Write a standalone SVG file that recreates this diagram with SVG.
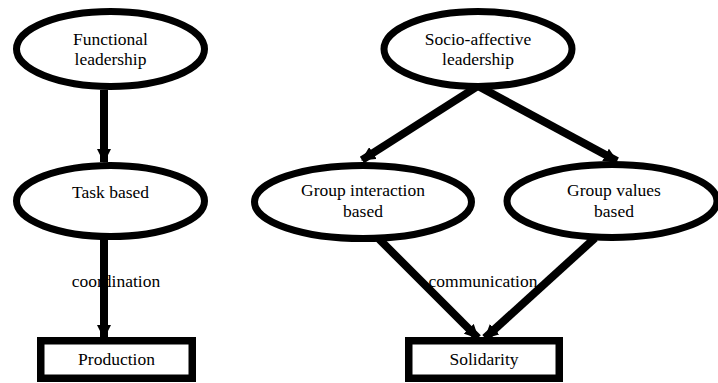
<svg xmlns="http://www.w3.org/2000/svg" width="718" height="383" viewBox="0 0 718 383">
<style>
.n ellipse{fill:#fff;stroke:#000;stroke-width:7}
.n rect{fill:#fff;stroke:#000;stroke-width:7.5}
.c line{stroke:#000;stroke-width:8;marker-end:url(#ah)}
.t{font-family:Liberation Serif,serif;font-size:17.5px;text-anchor:middle;fill:#000}
</style>
<defs>
<marker id="ah" markerUnits="userSpaceOnUse" markerWidth="14" markerHeight="14" viewBox="0 0 14 14" refX="13" refY="7" orient="auto">
<path d="M0,0 L14,7 L0,14 Z" fill="#000"/>
</marker>
</defs>
<rect width="718" height="383" fill="#fff"/>
<g class="c">
<line x1="104" y1="90" x2="104" y2="162"/>
<line x1="104" y1="240" x2="104" y2="338"/>
<line x1="478" y1="86" x2="362" y2="160"/>
<line x1="478" y1="86" x2="617" y2="161"/>
<line x1="378" y1="238" x2="478" y2="338"/>
<line x1="595" y1="238" x2="485" y2="338"/>
</g>
<g id="functional" class="n">
<ellipse cx="110.5" cy="49" rx="94" ry="37.5"/>
<text class="t" x="110.5" y="45" font-family="Liberation Serif">Functional</text>
<text class="t" x="110.5" y="65" font-family="Liberation Serif">leadership</text>
</g>
<g id="task" class="n">
<ellipse cx="110.5" cy="201" rx="94" ry="35.5"/>
<text class="t" x="110.5" y="198" font-family="Liberation Serif">Task based</text>
</g>
<g id="production" class="n">
<rect x="40.75" y="340.75" width="151.5" height="37.5"/>
<text class="t" x="116.5" y="365" font-family="Liberation Serif">Production</text>
</g>
<g id="socio" class="n">
<ellipse cx="478" cy="49" rx="94" ry="37.5"/>
<text class="t" x="478" y="45" font-family="Liberation Serif">Socio-affective</text>
<text class="t" x="478" y="65" font-family="Liberation Serif">leadership</text>
</g>
<g id="interaction" class="n">
<ellipse cx="363" cy="202" rx="108.5" ry="36.5"/>
<text class="t" x="363" y="196" font-family="Liberation Serif">Group interaction</text>
<text class="t" x="363" y="217" font-family="Liberation Serif">based</text>
</g>
<g id="values" class="n">
<ellipse cx="612" cy="201" rx="105" ry="36.5"/>
<text class="t" x="614" y="196" font-family="Liberation Serif">Group values</text>
<text class="t" x="614" y="217" font-family="Liberation Serif">based</text>
</g>
<g id="solidarity" class="n">
<rect x="408.75" y="340.75" width="150.5" height="37.5"/>
<text class="t" x="484" y="365" font-family="Liberation Serif">Solidarity</text>
</g>
<text class="t" x="116" y="287" font-family="Liberation Serif">coordination</text>
<text class="t" x="483" y="287" font-family="Liberation Serif">communication</text>
</svg>
